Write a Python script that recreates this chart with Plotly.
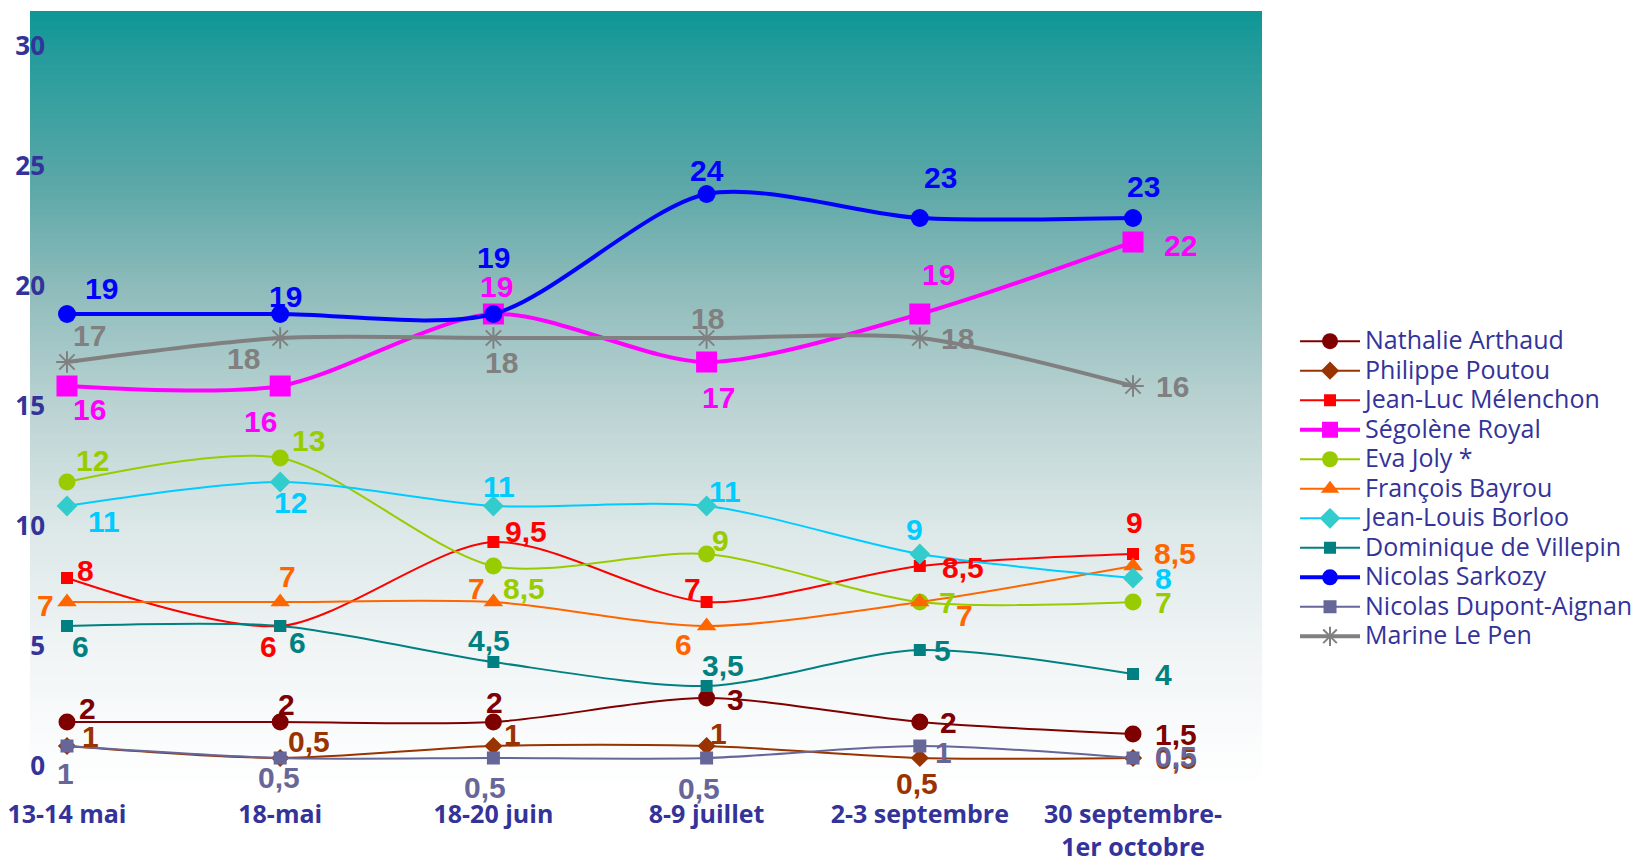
import plotly.graph_objects as go

# survey dates (x categories)
DATES = ["13-14 mai", "18-mai", "18-20 juin", "8-9 juillet", "2-3 septembre",
         "30 septembre-<br>1er octobre"]

# voting intentions, in %
ARTHAUD = [2, 2, 2, 3, 2, 1.5]
POUTOU = [1, 0.5, 1, 1, 0.5, 0.5]
MELENCHON = [8, 6, 9.5, 7, 8.5, 9]
ROYAL = [16, 16, 19, 17, 19, 22]
JOLY = [12, 13, 8.5, 9, 7, 7]
BAYROU = [7, 7, 7, 6, 7, 8.5]
BORLOO = [11, 12, 11, 11, 9, 8]
VILLEPIN = [6, 6, 4.5, 3.5, 5, 4]
SARKOZY = [19, 19, 19, 24, 23, 23]
DUPONT_AIGNAN = [1, 0.5, 0.5, 0.5, 1, 0.5]
LE_PEN = [17, 18, 18, 18, 18, 16]

SERIES = [
    ("Nathalie Arthaud", ARTHAUD),
    ("Philippe Poutou", POUTOU),
    ("Jean-Luc Mélenchon", MELENCHON),
    ("Ségolène Royal", ROYAL),
    ("Eva Joly *", JOLY),
    ("François Bayrou", BAYROU),
    ("Jean-Louis Borloo", BORLOO),
    ("Dominique de Villepin", VILLEPIN),
    ("Nicolas Sarkozy", SARKOZY),
    ("Nicolas Dupont-Aignan", DUPONT_AIGNAN),
    ("Marine Le Pen", LE_PEN),
]

# line colour, marker colour, line width, symbol, marker size
STYLE = {
    "Nathalie Arthaud": ("#7f0000", "#7f0000", 2, "circle", 17),
    "Philippe Poutou": ("#993300", "#993300", 2, "diamond", 14),
    "Jean-Luc Mélenchon": ("#ff0000", "#ff0000", 2, "square", 12),
    "Ségolène Royal": ("#ff00ff", "#ff00ff", 4, "square", 21),
    "Eva Joly *": ("#99cc00", "#99cc00", 2, "circle", 17),
    "François Bayrou": ("#ff6600", "#ff6600", 2, "triangle-up", 17),
    "Jean-Louis Borloo": ("#00ccff", "#33cccc", 2, "diamond", 16),
    "Dominique de Villepin": ("#008080", "#008080", 2, "square", 12),
    "Nicolas Sarkozy": ("#0000ff", "#0000ff", 4, "circle", 18),
    "Nicolas Dupont-Aignan": ("#666699", "#666699", 2, "square", 13),
    "Marine Le Pen": ("#808080", "#808080", 4, "asterisk-open", 18),
}

# data label offsets in px (dx right, dy down) from each point
LABEL_OFFSETS = {
    "Nathalie Arthaud": [(21, -14), (6, -18), (1, -20), (29, 1), (29, 0), (43, 0)],
    "Philippe Poutou": [(24, -10), (29, -17), (19, -12), (12, -13), (-3, 25), (43, 0)],
    "Jean-Luc Mélenchon": [(19, -8), (-12, 20), (33, -11), (-14, -14), (43, 1), (1, -32)],
    "Ségolène Royal": [(23, 23), (-20, 35), (3, -28), (12, 35), (19, -40), (47, 3)],
    "Eva Joly *": [(26, -22), (28, -18), (31, 22), (14, -14), (28, 0), (30, 0)],
    "François Bayrou": [(-21, 3), (7, -26), (-17, -14), (-23, 18), (45, 13), (42, -13)],
    "Jean-Louis Borloo": [(37, 15), (10, 20), (6, -20), (18, -15), (-5, -25), (30, 0)],
    "Dominique de Villepin": [(14, 20), (17, 16), (-4, -22), (16, -21), (23, 0), (30, 0)],
    "Nicolas Sarkozy": [(35, -26), (5, -18), (0, -57), (0, -24), (21, -41), (10, -32)],
    "Nicolas Dupont-Aignan": [(-1, 27), (-1, 19), (-8, 29), (-8, 30), (24, 6), (43, -2)],
    "Marine Le Pen": [(23, -27), (-37, 20), (8, 24), (1, -20), (38, 0), (39, 0)],
}
LABEL_COLOR = {"Jean-Louis Borloo": "#00ccff"}

AXIS_BLUE = "#333399"
X_FONT = dict(family="Open Sans", size=25, color=AXIS_BLUE, weight="bold")
Y_FONT = dict(family="Open Sans", size=26, color=AXIS_BLUE, weight="bold")

# background gradient, top (0) to bottom (1)
GRADIENT = [
    (0.00, (14, 150, 150)),
    (0.06, (38, 156, 156)),
    (0.22, (90, 167, 167)),
    (0.36, (143, 188, 187)),
    (0.52, (189, 212, 212)),
    (0.67, (221, 232, 232)),
    (0.83, (241, 245, 246)),
    (1.00, (255, 255, 255)),
]


def _grad(t):
    for (t0, c0), (t1, c1) in zip(GRADIENT, GRADIENT[1:]):
        if t <= t1:
            f = (t - t0) / (t1 - t0)
            r, g, b = (round(a + (b - a) * f) for a, b in zip(c0, c1))
            return f"rgb({r},{g},{b})"
    return "rgb(255,255,255)"


def _fmt(v):
    return f"{v:g}".replace(".", ",")


x = list(range(len(DATES)))
fig = go.Figure()

for name, values in SERIES:
    line_c, mark_c, lw, sym, msize = STYLE[name]
    marker = dict(symbol=sym, size=msize, color=mark_c)
    if sym.startswith("asterisk"):
        marker["line"] = dict(color=mark_c, width=2)
    fig.add_trace(
        go.Scatter(
            x=x,
            y=values,
            # legend rows are spaced by the legend font size; the glyphs are larger
            name=f'<span style="font-size:25px">{name}\u00a0</span>',
            mode="lines+markers",
            line=dict(color=line_c, width=lw, shape="spline", smoothing=0.8),
            marker=marker,
            hovertemplate="<b>%{y}</b><extra>" + name + "</extra>",
        )
    )
    for i, v in enumerate(values):
        dx, dy = LABEL_OFFSETS[name][i]
        fig.add_annotation(
            x=i, y=v, text=_fmt(v), showarrow=False,
            xshift=dx, yshift=-dy,
            font=dict(family="Liberation Sans, Arial", size=30, weight="bold",
                      color=LABEL_COLOR.get(name, line_c)),
        )

# gradient plot background as thin overlapping bands
n_bands = 160
for k in range(n_bands):
    t = (k + 0.5) / n_bands
    fig.add_shape(
        type="rect", xref="paper", yref="paper", layer="below",
        x0=0, x1=1, y0=max(0.0, 1 - (k + 2) / n_bands), y1=1 - k / n_bands,
        fillcolor=_grad(t), line=dict(width=0),
    )

# page body has an 8px margin, so the figure margins are shifted by it;
# the figure is a bit wider than the window so the legend never squeezes the plot
fig.update_layout(
    width=1660,
    height=866,
    margin=dict(l=22, r=406, t=3, b=87),
    paper_bgcolor="white",
    plot_bgcolor="white",
    showlegend=True,
    legend=dict(
        x=1.0268, y=0.6, xanchor="left", yanchor="top",
        font=dict(family="Open Sans", size=20.4, color=AXIS_BLUE),
        itemwidth=60,
        bgcolor="rgba(0,0,0,0)",
    ),
    hoverlabel=dict(font=dict(family="Open Sans", size=13)),
)
fig.update_xaxes(
    range=[-0.1735, 5.605],
    tickvals=x,
    ticktext=DATES,
    tickfont=X_FONT,
    showgrid=False,
    zeroline=False,
    showline=False,
    ticks="",
    ticklabelstandoff=10,
    ticklabeloverflow="allow",
    automargin=False,
)
fig.update_yaxes(
    range=[-0.708, 31.625],
    tickvals=[0, 5, 10, 15, 20, 25, 30],
    tickfont=Y_FONT,
    showgrid=False,
    zeroline=False,
    showline=False,
    ticks="",
    ticklabelstandoff=-16,
    ticklabelshift=-4,
    ticklabeloverflow="allow",
    automargin=False,
)

fig.write_html("out.html")
